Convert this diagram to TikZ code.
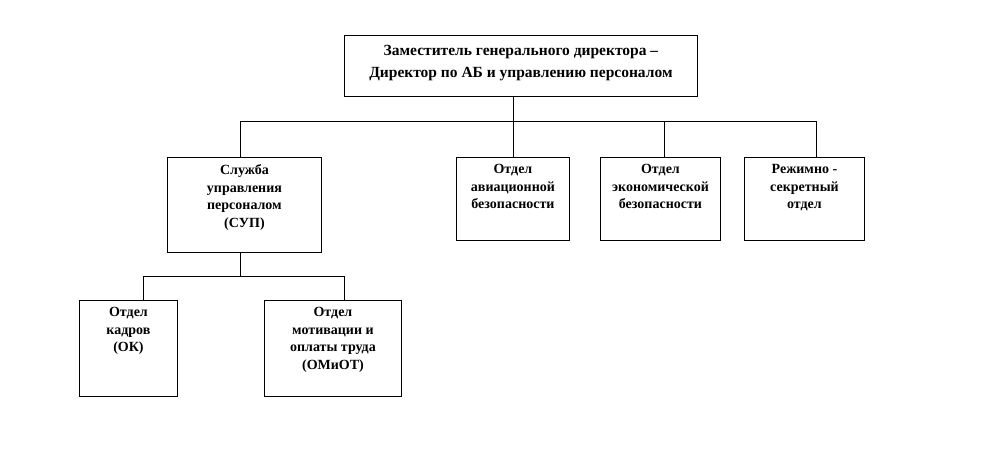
\documentclass[tikz,border=0pt]{standalone}
\usepackage{fontspec}
\setmainfont{Liberation Serif}
\usetikzlibrary{positioning}

\tikzset{
  unit/.style={draw, line width=0.9pt, inner sep=0pt, anchor=north west},
  unittext/.style={inner sep=0pt, align=center, anchor=north,
    font=\bfseries\fontsize{14}{17.5}\selectfont},
  link/.style={draw, line width=0.9pt}
}

\begin{document}
\begin{tikzpicture}[x=1pt, y=-1pt]

    \useasboundingbox (0,0) rectangle (1000,456);

    % boxes
    \node[unit, minimum width=353, minimum height=61] (dir) at (344,35) {};
    \node[unit, minimum width=154, minimum height=95] (sup) at (167,157) {};
    \node[unit, minimum width=113, minimum height=83] (av) at (456,157) {};
    \node[unit, minimum width=120, minimum height=83] (ek) at (600,157) {};
    \node[unit, minimum width=120, minimum height=83] (rs) at (744,157) {};
    \node[unit, minimum width=98, minimum height=96] (ok) at (79,300) {};
    \node[unit, minimum width=137, minimum height=96] (om) at (264,300) {};

    % texts
    \node[unittext, font=\bfseries\fontsize{15.5}{22}\selectfont, below=10pt of dir.north] (dirtext)
        {Заместитель генерального директора --\\Директор по АБ и управлению персоналом};
    \node[unittext, below=7.5pt of sup.north] (suptext) {Служба\\управления\\персоналом\\(СУП)};
    \node[unittext, below=7.5pt of av.north] (avtext) {Отдел\\авиационной\\безопасности};
    \node[unittext, below=7.5pt of ek.north] (ektext) {Отдел\\экономической\\безопасности};
    \node[unittext, below=7.5pt of rs.north] (rstext) {Режимно -\\секретный\\отдел};
    \node[unittext, below=7.5pt of ok.north] (oktext) {Отдел\\кадров\\(ОК)};
    \node[unittext, below=7.5pt of om.north] (omtext) {Отдел\\мотивации и\\оплаты труда\\(ОМиОТ)};

    % connectors
    \coordinate (bus) at (0,121);
    \coordinate (subbus) at (0,276);
    \coordinate (supdrop) at ([xshift=-4pt]sup.north);
    \coordinate (ekdrop) at ([xshift=4pt]ek.north);
    \coordinate (rsdrop) at ([xshift=12pt]rs.north);
    \coordinate (okdrop) at ([xshift=15pt]ok.north);
    \coordinate (omdrop) at ([xshift=11.5pt]om.north);

    \draw[link] (av.north |- dir.south) -- (av.north);
    \draw[link] (supdrop) -- (supdrop |- bus) -- (rsdrop |- bus) -- (rsdrop);
    \draw[link] (ekdrop |- bus) -- (ekdrop);

    \draw[link] (supdrop |- sup.south) -- (supdrop |- subbus);
    \draw[link] (okdrop) -- (okdrop |- subbus) -- (omdrop |- subbus) -- (omdrop);

\end{tikzpicture}
\end{document}
